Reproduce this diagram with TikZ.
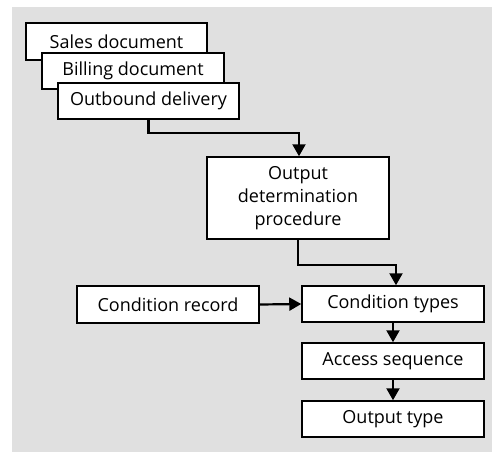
\documentclass[tikz,border=0pt]{standalone}
\usepackage{fontspec}
\setmainfont{Open Sans}
\usetikzlibrary{arrows.meta}
\definecolor{panel}{HTML}{E0E0E0}
\tikzset{
  box/.style={draw=black, line width=1.5pt, fill=white, inner sep=0pt,
    minimum width=182pt, minimum height=36pt, align=center,
    font=\fontsize{18pt}{23pt}\selectfont},
  flow/.style={line width=2.2pt, -{Triangle[length=12pt,width=13pt]}},
}
\begin{document}
\begin{tikzpicture}[x=1pt,y=-1pt]
  \useasboundingbox (0,0) rectangle (492,452);
  \fill[panel] (12,7) rectangle (492,452);

  % stacked document sources
  \node[box, minimum width=181pt, minimum height=37pt] (sales) at (116.5,41.5) {Sales document};
  \node[box] (bill) at (133,71) {Billing document};
  \node[box, minimum width=181pt] (outb) at (148.5,101) {Outbound delivery};

  % procedure and condition chain
  \node[box, minimum height=82pt] (odp) at (298,198) {Output\\determination\\procedure};
  \node[box, minimum height=37pt] (crec) at (168,304.5) {Condition record};
  \node[box] (ctyp) at (393,304) {Condition types};
  \node[box] (acc) at (393,361) {Access sequence};
  \node[box] (otyp) at (393,419) {Output type};

  % connectors
  \draw[flow] (outb.south) -- ++(0,13) -| ([xshift=1pt]odp.north);
  \draw[flow] (odp.south) -- ++(0,25) -| ([xshift=3pt]ctyp.north);
  \draw[flow] (crec.east) -- (ctyp.west);
  \draw[flow] (ctyp.south) -- (acc.north);
  \draw[flow] (acc.south) -- (otyp.north);
\end{tikzpicture}
\end{document}
